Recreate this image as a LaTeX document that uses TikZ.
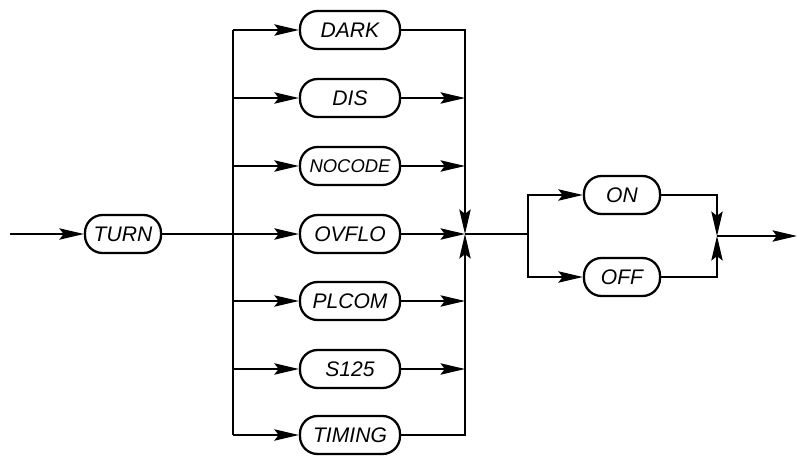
\documentclass[tikz,border=0pt]{standalone}
\usepackage{fontspec}
\newfontfamily\keyfont{Liberation Sans}
\usetikzlibrary{arrows.meta}

\tikzset{
  keyword/.style={draw, line width=1.3pt, rounded corners=10pt,
    minimum width=2cm, minimum height=0.76cm, inner sep=0pt,
    font=\keyfont\itshape\fontsize{12}{13}\selectfont},
  shortkey/.style={keyword, minimum width=1.52cm},
  squeezed/.style={font=\keyfont\itshape\fontsize{10.5}{12}\selectfont},
  flow/.style={line width=0.8pt},
  arr/.style={flow, -{Stealth[length=14pt,width=6.5pt,inset=2.5pt]}}
}

\begin{document}
\begin{tikzpicture}[x=0.02cm,y=-0.02cm]
        \useasboundingbox (0,0) rectangle (798,456);

        % Entry and first keyword
        \coordinate (start) at (10,234);
        \node[shortkey] (turn) at (123,234) {TURN};
        \draw[arr] (start) -- (turn.west);

        % Buses and junctions
        \coordinate (lbus) at (233,234);
        \coordinate (j1) at (465,234);
        \coordinate (split) at (528,234);
        \coordinate (j2) at (717,236);
        \coordinate (finish) at (797,236);

        % Options in the middle column
        \node[keyword] (dark) at (350,30) {DARK};
        \node[keyword] (dis) at (350,98) {DIS};
        \node[keyword,squeezed] (nocode) at (350,166) {NOCODE};
        \node[keyword] (ovflo) at (350,234) {OVFLO};
        \node[keyword] (plcom) at (350,301) {PLCOM};
        \node[keyword] (s125) at (350,369) {S125};
        \node[keyword] (timing) at (350,435) {TIMING};

        % Left bus with arrows into the options
        \draw[flow] (dark.west -| lbus) -- (timing.west -| lbus);
        \draw[arr] (turn.east) -- (ovflo.west);
        \draw[arr] (dark.west -| lbus) -- (dark.west);
        \draw[arr] (dis.west -| lbus) -- (dis.west);
        \draw[arr] (nocode.west -| lbus) -- (nocode.west);
        \draw[arr] (plcom.west -| lbus) -- (plcom.west);
        \draw[arr] (s125.west -| lbus) -- (s125.west);
        \draw[arr] (timing.west -| lbus) -- (timing.west);

        % Right bus merging into j1
        \draw[arr] (dark.east) -| (j1);
        \draw[arr] (timing.east) -| (j1);
        \draw[arr] (ovflo.east) -- (j1);
        \draw[arr] (dis.east) -- (dis.east -| j1);
        \draw[arr] (nocode.east) -- (nocode.east -| j1);
        \draw[arr] (plcom.east) -- (plcom.east -| j1);
        \draw[arr] (s125.east) -- (s125.east -| j1);

        % ON / OFF choice
        \node[shortkey] (on) at (622,195) {ON};
        \node[shortkey] (off) at (622,277) {OFF};
        \draw[flow] (j1) -- (split);
        \draw[arr] (split) |- (on.west);
        \draw[arr] (split) |- (off.west);
        \draw[arr] (on.east) -| (j2);
        \draw[arr] (off.east) -| (j2);
        \draw[arr] (j2) -- (finish);

    \end{tikzpicture}
\end{document}
